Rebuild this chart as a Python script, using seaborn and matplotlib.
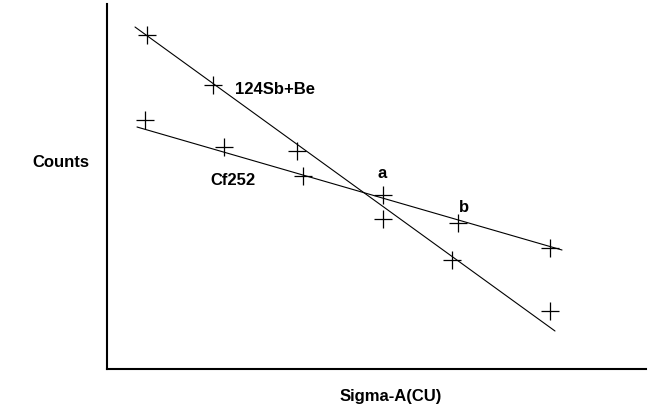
import matplotlib
matplotlib.use("Agg")
import matplotlib.pyplot as plt
import seaborn as sns
import pandas as pd

# Measured points (arbitrary units)
sb_x = [40, 106, 190, 276, 345, 443]
sb_counts = [334, 284, 218, 150, 109, 58]
cf_x = [38, 117, 196, 276, 351, 443]
cf_counts = [249, 222, 193, 174, 146, 121]

# Fitted straight lines (end points)
sb_fit_x = [28, 448]
sb_fit_counts = [342, 38]
cf_fit_x = [30, 455]
cf_fit_counts = [242, 119]

series_labels = ["124Sb+Be", "Cf252"]
point_labels = ["a", "b"]

sns.set_theme(style="white")
plt.rcParams['font.family'] = ['Liberation Sans', 'DejaVu Sans']

fig = plt.figure(figsize=(6.5, 4.06), dpi=100)
ax = fig.add_axes([107/650, 36/406, 539/650, 365/406])

pts = pd.DataFrame({
    "x": sb_x + cf_x,
    "counts": sb_counts + cf_counts,
    "series": [series_labels[0]] * len(sb_x) + [series_labels[1]] * len(cf_x),
})
fits = pd.DataFrame({
    "x": sb_fit_x + cf_fit_x,
    "counts": sb_fit_counts + cf_fit_counts,
    "series": [series_labels[0]] * 2 + [series_labels[1]] * 2,
})

sns.lineplot(data=fits, x="x", y="counts", units="series", estimator=None,
             color="black", linewidth=0.8, ax=ax, legend=False)
sns.scatterplot(data=pts, x="x", y="counts", marker="+", s=150,
                color="black", linewidth=0.9, ax=ax, legend=False)

ax.set_xlim(0, 539)
ax.set_ylim(0, 365)
ax.set_xticks([])
ax.set_yticks([])
ax.set_xlabel("")
ax.set_ylabel("")
for side in ["top", "right"]:
    ax.spines[side].set_visible(False)
for side in ["left", "bottom"]:
    ax.spines[side].set_color("black")
    ax.spines[side].set_linewidth(1.5)

tk = dict(fontsize=12, fontweight="bold", color="black")
ax.text(128, 281, series_labels[0], ha="left", va="center", **tk)
ax.text(103, 189, series_labels[1], ha="left", va="center", **tk)
ax.text(275, 196, point_labels[0], ha="center", va="center", **tk)
ax.text(357, 162, point_labels[1], ha="center", va="center", **tk)

fig.text(61/650, 1 - 163/406, "Counts", ha="center", va="center", **tk)
fig.text(391/650, 1 - 397/406, "Sigma-A(CU)", ha="center", va="center", **tk)

fig.savefig("out.png", dpi=100, facecolor="white")
